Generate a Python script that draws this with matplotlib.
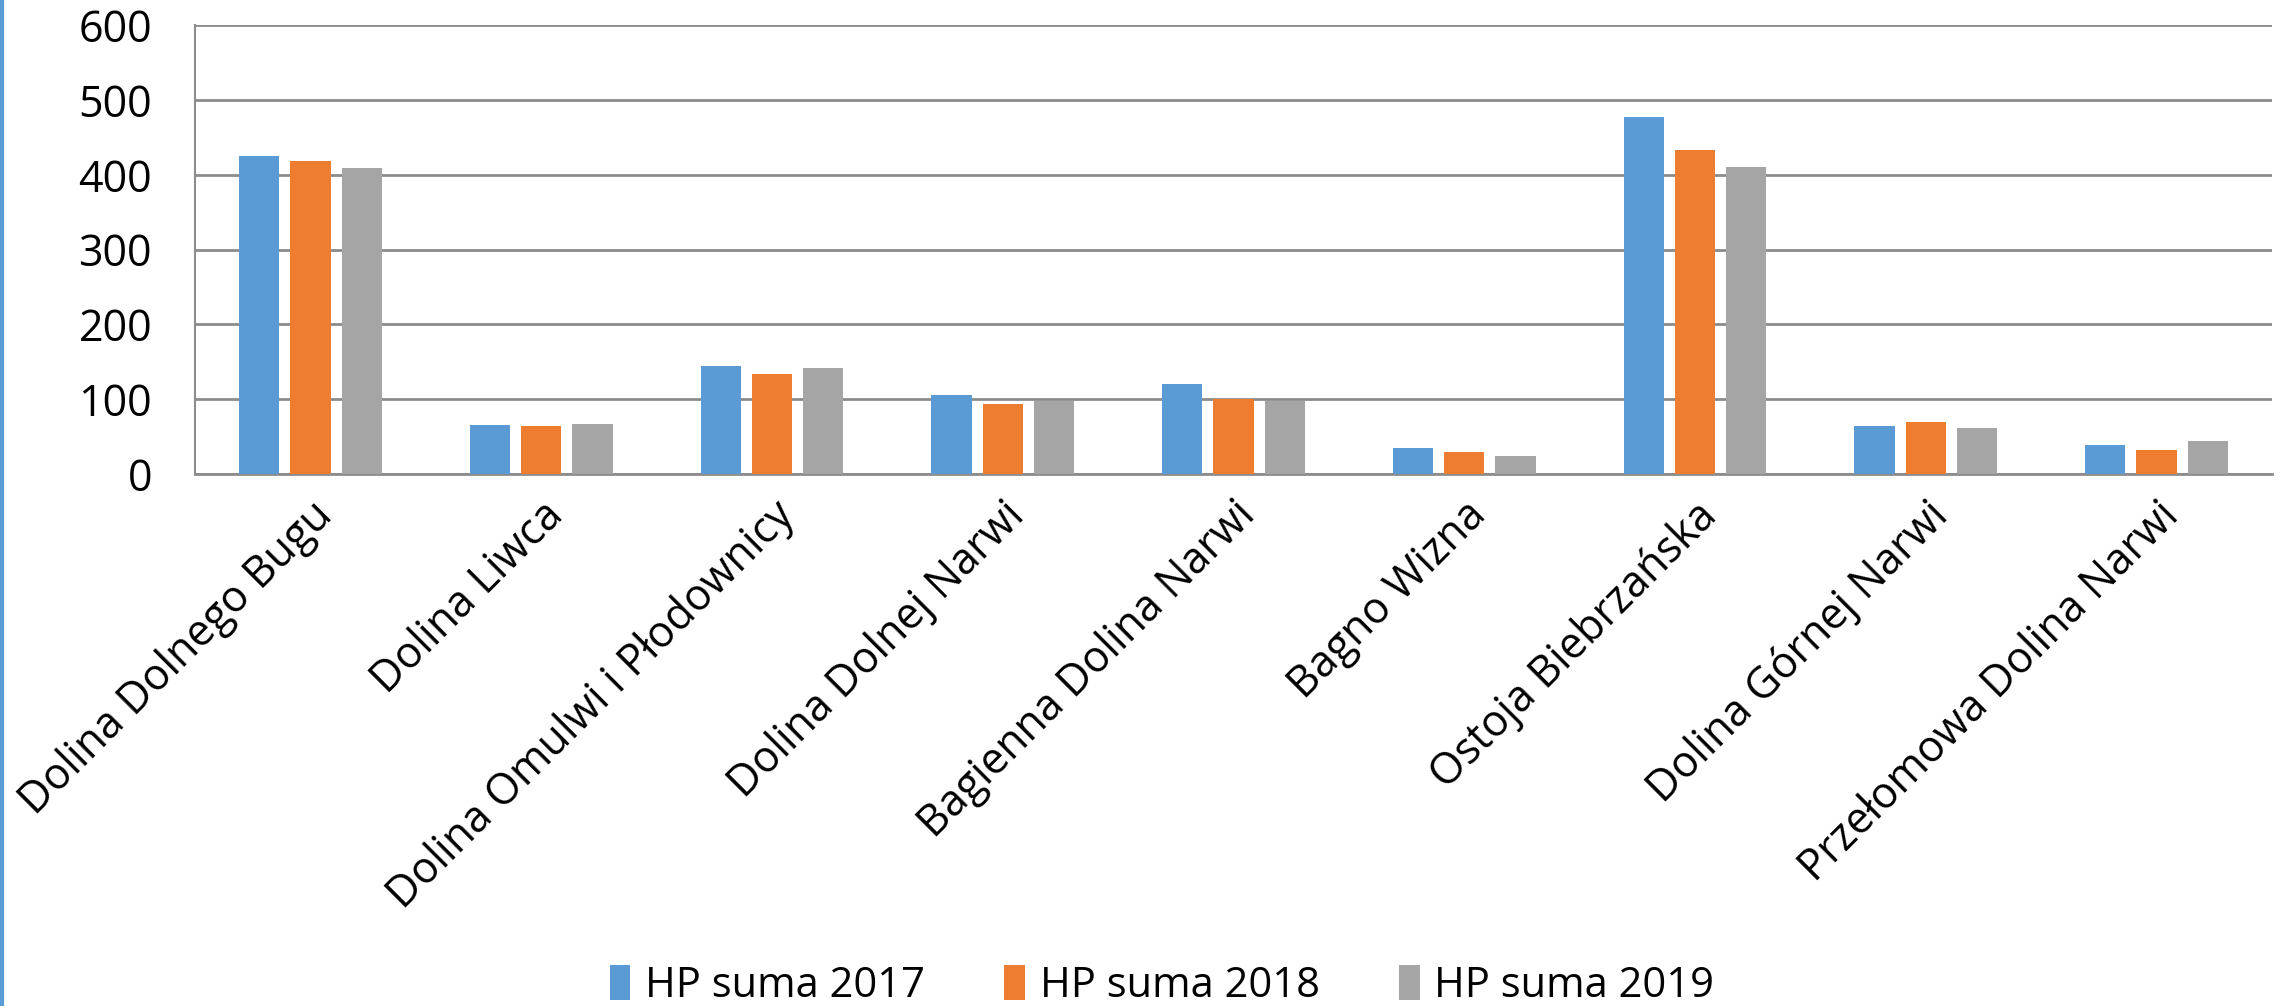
import matplotlib
matplotlib.use("Agg")
import matplotlib.pyplot as plt
import numpy as np
from matplotlib.lines import Line2D

plt.rcParams['font.family'] = ['Open Sans', 'DejaVu Sans']

# data
categories = ['Dolina Dolnego Bugu', 'Dolina Liwca', 'Dolina Omulwi i Płodownicy',
              'Dolina Dolnej Narwi', 'Bagienna Dolina Narwi', 'Bagno Wizna',
              'Ostoja Biebrzańska', 'Dolina Górnej Narwi', 'Przełomowa Dolina Narwi']
hp_2017 = [425, 65, 144, 105, 120, 35, 477, 64, 38]
hp_2018 = [418, 64, 134, 94, 100, 29, 433, 70, 32]
hp_2019 = [409, 66, 142, 97, 97, 24, 410, 61, 44]
series_names = ['HP suma 2017', 'HP suma 2018', 'HP suma 2019']
colors = ['#5B9BD5', '#ED7D31', '#A5A5A5']

fig = plt.figure(figsize=(22.87, 10.06), dpi=100)
ax = fig.add_axes([0.0853, 0.529, 0.9081, 0.4458])

x = np.arange(len(categories))
width = 0.174
pitch = 0.222
for i, (vals, name, c) in enumerate(zip([hp_2017, hp_2018, hp_2019], series_names, colors)):
    ax.bar(x + (i - 1) * pitch, vals, width, color=c, label=name, zorder=3)

ax.set_xlim(-0.5, len(categories) - 0.5)
ax.set_ylim(0, 600)
ax.set_yticks(range(0, 601, 100))
ax.yaxis.grid(True, color='#8C8C8C', linewidth=2, zorder=0)
ax.set_axisbelow(True)

for s in ['top', 'right']:
    ax.spines[s].set_visible(False)
ax.spines['left'].set_color('#8C8C8C')
ax.spines['left'].set_linewidth(1.5)
ax.spines['bottom'].set_color('#8C8C8C')
ax.spines['bottom'].set_linewidth(2)

ax.tick_params(axis='y', length=0, labelsize=31, pad=31)
ax.tick_params(axis='x', length=0, pad=14)
ax.set_xticks(x)
ax.set_xticklabels(categories, rotation=45, ha='right', va='top',
                   rotation_mode='anchor', fontsize=31)

fig.legend(loc='center', bbox_to_anchor=(0.508, 0.02), ncol=3, frameon=False,
           fontsize=30, handlelength=0.5, handleheight=0.9, handletextpad=0.35,
           columnspacing=1.9)

# thin blue border on the left edge
fig.add_artist(Line2D([0.0007, 0.0007], [0, 1], color='#5B9BD5', linewidth=3,
                      transform=fig.transFigure))

fig.savefig('out.png', dpi=100)
